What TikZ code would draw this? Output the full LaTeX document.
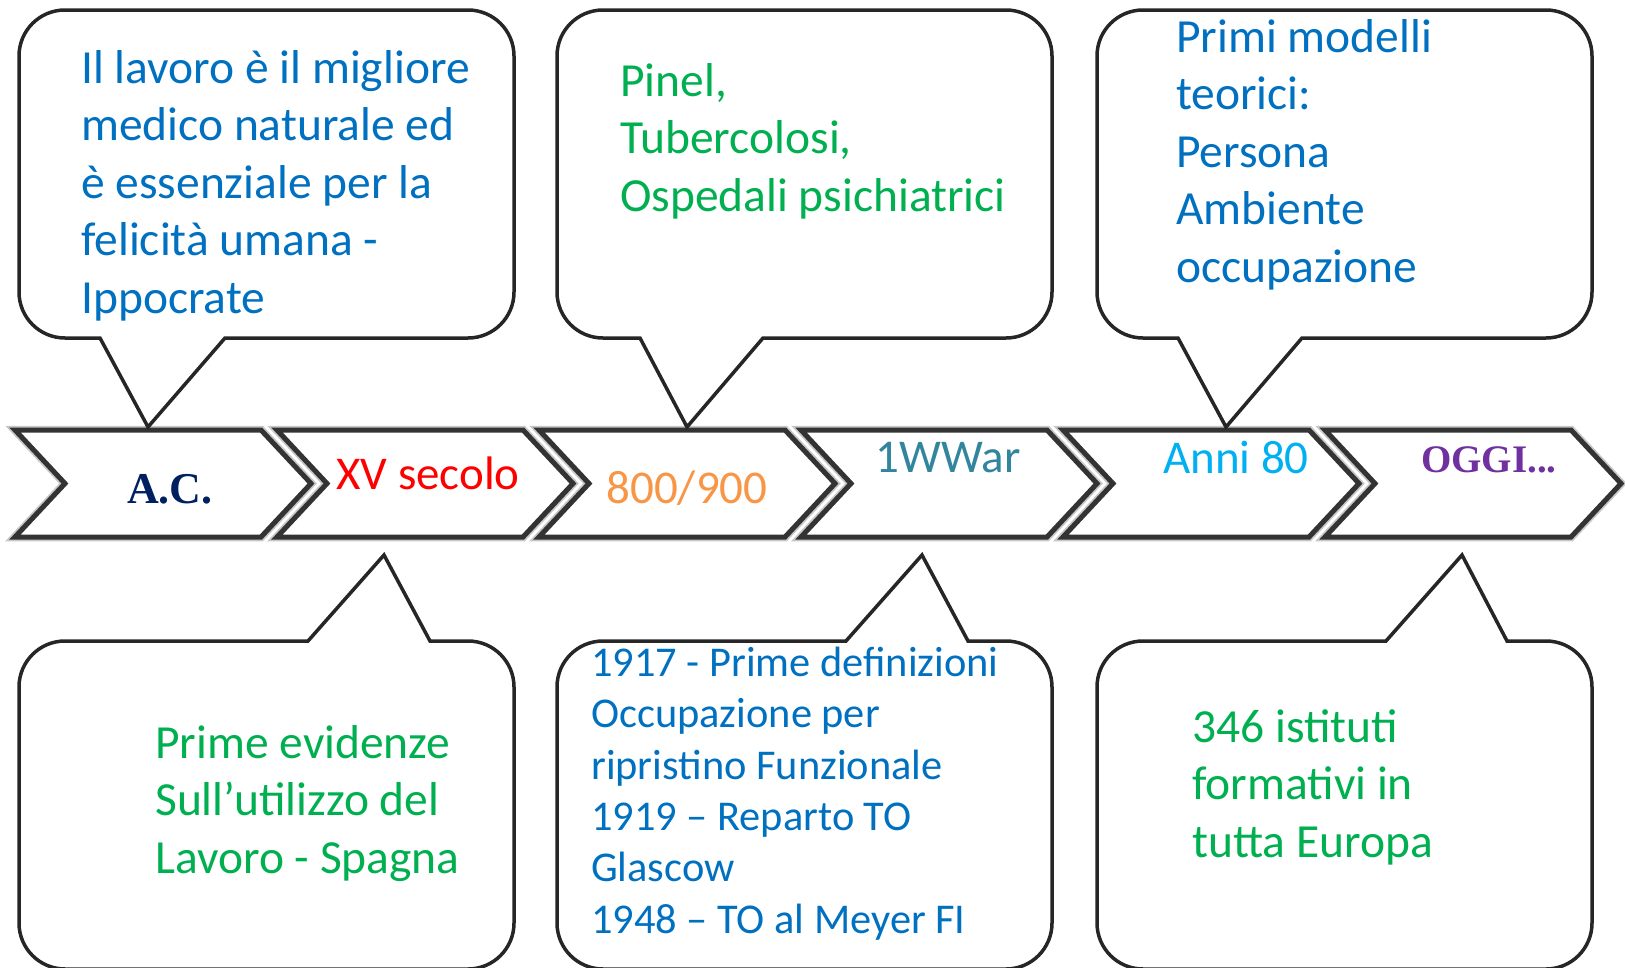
\documentclass[tikz,border=0pt]{standalone}
\usepackage{fontspec}
\setmainfont{Carlito}
\newfontfamily\decofont{Liberation Serif}
\definecolor{quoteblue}{HTML}{0070C0}
\definecolor{leafgreen}{HTML}{00B050}
\definecolor{acnavy}{HTML}{002060}
\definecolor{xvred}{HTML}{FF0000}
\definecolor{ottoorange}{HTML}{F79646}
\definecolor{warteal}{HTML}{31859C}
\definecolor{annicyan}{HTML}{00B0F0}
\definecolor{oggipurple}{HTML}{7030A0}

\begin{document}
\begin{tikzpicture}[x=1pt,y=-1pt]
		\tikzset{bubble/.style={draw=black!85, line width=3.5pt, fill=white, line join=miter}}
		\tikzset{arrowbox/.style={draw=black!80, line width=5pt, fill=white, line join=miter,
				preaction={draw=black!22, line width=8.5pt}}}
		\tikzset{say/.style={anchor=base west, align=left, inner sep=0pt,
				font=\fontsize{47.5}{57.5}\selectfont}}
		\tikzset{era/.style={anchor=base, inner sep=0pt, font=\fontsize{47}{56}\selectfont}}
		\useasboundingbox (0,0) rectangle (1625,967);
		%timeline
		\foreach \i in {0,...,5}
		\draw[arrowbox] (15+262*\i,430) -- ++(246,0) -- ++(50,53.5) -- ++(-50,53.5)
			-- ++(-246,0) -- ++(50,-53.5) -- cycle;
		%upper bubbles
		\foreach \l/\pa/\tip/\pb in {19/100/148/225, 557/640/687/763, 1097/1178/1226/1302}
		\draw[bubble] (\l+46,10) -- (\l+449,10) arc[start angle=90, end angle=0, radius=46pt]
			-- (\l+495,292) arc[start angle=0, end angle=-90, radius=46pt]
			-- (\pb,338) -- (\tip,427) -- (\pa,338)
			-- (\l+46,338) arc[start angle=270, end angle=180, radius=46pt]
			-- (\l,56) arc[start angle=180, end angle=90, radius=46pt] -- cycle;
		%lower bubbles
		\foreach \l/\pa/\tip/\pb in {19/308/384/430, 557/846/922/968, 1097/1386/1462/1507}
		\draw[bubble] (\l+46,641) -- (\pa,641) -- (\tip,555) -- (\pb,641)
			-- (\l+449,641) arc[start angle=90, end angle=0, radius=46pt]
			-- (\l+495,923) arc[start angle=0, end angle=-90, radius=46pt]
			-- (\l+46,969) arc[start angle=270, end angle=180, radius=46pt]
			-- (\l,687) arc[start angle=180, end angle=90, radius=46pt] -- cycle;
		%labels on the arrows
		\node[era, text=acnavy, font=\decofont\bfseries\fontsize{44}{50}\selectfont] (ac) at (170,503) {A.C.};
		\node[era, text=xvred] (xv) at (428,489) {XV secolo};
		\node[era, text=ottoorange] (ottocento) at (687,503) {800/900};
		\node[era, text=warteal] (wwar) at (948,472) {1WWar};
		\node[era, text=annicyan] (anni) at (1236,473) {Anni 80};
		\node[era, text=oggipurple, font=\decofont\bfseries\fontsize{39}{46}\selectfont] (oggi) at (1489,472) {OGGI...};
		%texts in the bubbles (anchored on their last line)
		\node[say, text=quoteblue] (ippocrate) at (81,313) {Il lavoro è il migliore\\medico naturale ed\\è essenziale per la\\felicità umana -\\Ippocrate};
		\node[say, text=leafgreen] (pinel) at (620,211) {Pinel,\\Tubercolosi,\\Ospedali psichiatrici};
		\node[say, text=quoteblue] (modelli) at (1176,282) {Primi modelli\\teorici:\\Persona\\Ambiente\\occupazione};
		\node[say, text=leafgreen] (spagna) at (155,873) {Prime evidenze\\Sull’utilizzo del\\Lavoro - Spagna};
		\node[say, text=quoteblue, font=\fontsize{42.4}{51.3}\selectfont] (definizioni) at (591,933)
			{1917 - Prime definizioni\\Occupazione per\\ripristino Funzionale\\1919 – Reparto TO\\Glascow\\1948 – TO al Meyer FI};
		\node[say, text=leafgreen] (europa) at (1192,857) {346 istituti\\formativi in\\tutta Europa};
\end{tikzpicture}
\end{document}
